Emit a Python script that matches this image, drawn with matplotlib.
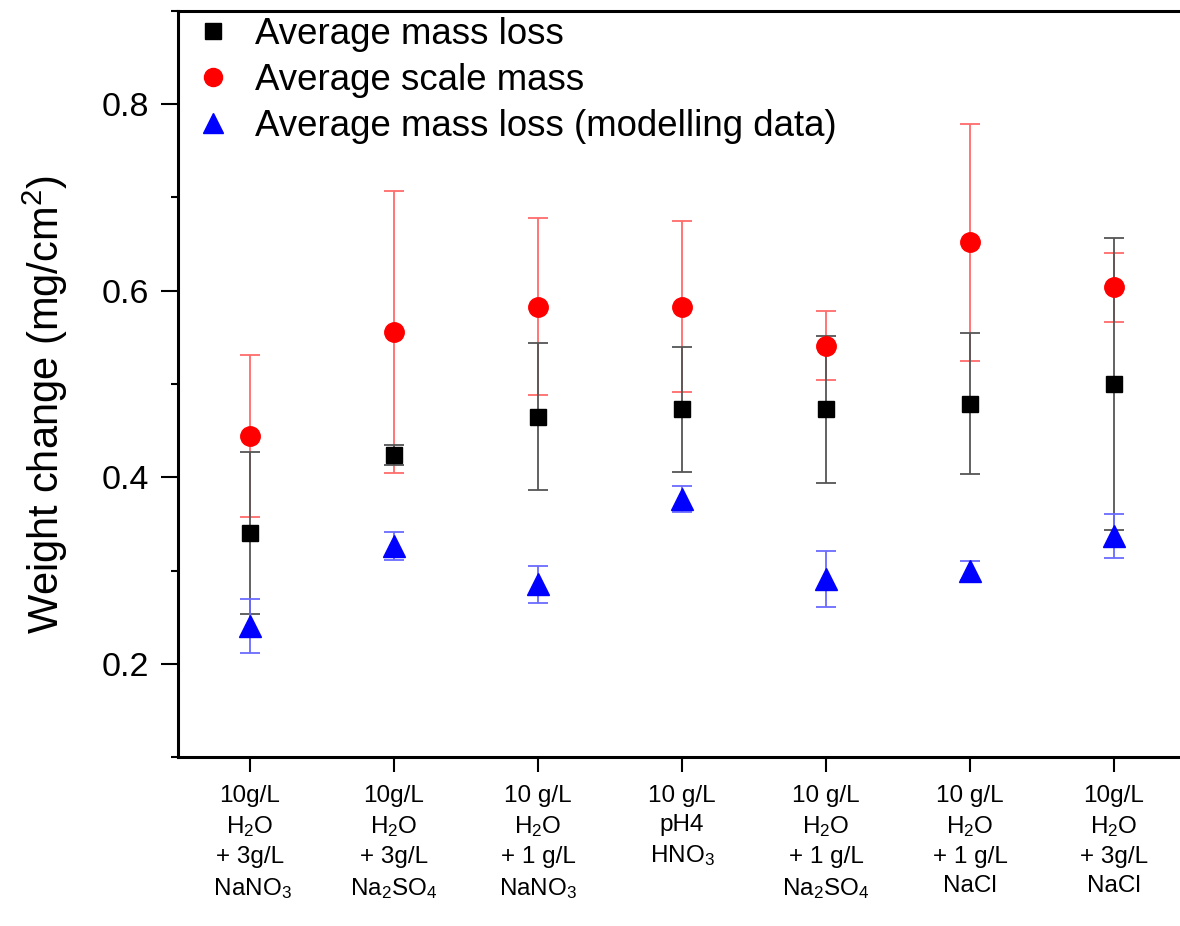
import matplotlib
matplotlib.use("Agg")
import matplotlib.pyplot as plt
from matplotlib.lines import Line2D
from matplotlib.ticker import MultipleLocator

plt.rcParams['font.family'] = ['Liberation Sans', 'DejaVu Sans']
plt.rcParams['mathtext.default'] = 'regular'

# Conditions on the x axis
conditions = [
    "10g/L\nH$_2$O\n+ 3g/L\n NaNO$_3$",
    "10g/L\nH$_2$O\n+ 3g/L\nNa$_2$SO$_4$",
    "10 g/L\nH$_2$O\n+ 1 g/L\nNaNO$_3$",
    "10 g/L\npH4\nHNO$_3$\n",
    "10 g/L\nH$_2$O\n+ 1 g/L\nNa$_2$SO$_4$",
    "10 g/L\nH$_2$O\n+ 1 g/L\nNaCl",
    "10g/L\nH$_2$O\n+ 3g/L\nNaCl",
]

# Average mass loss (black squares)
mass_loss = [0.340, 0.424, 0.465, 0.473, 0.473, 0.479, 0.500]
mass_loss_err = [0.087, 0.011, 0.079, 0.067, 0.079, 0.076, 0.157]

# Average scale mass (red circles)
scale_mass = [0.444, 0.556, 0.583, 0.583, 0.541, 0.652, 0.604]
scale_mass_err = [0.087, 0.151, 0.095, 0.092, 0.037, 0.127, 0.037]

# Average mass loss, modelling data (blue triangles)
model_loss = [0.240, 0.326, 0.285, 0.377, 0.291, 0.300, 0.337]
model_loss_err = [0.029, 0.015, 0.020, 0.014, 0.030, 0.010, 0.024]

x = list(range(len(conditions)))

fig = plt.figure(figsize=(11.8, 9.26), dpi=100)
ax = fig.add_axes([178 / 1180, 1 - 757 / 926, 1008 / 1180, 746 / 926])

ax.errorbar(x, scale_mass, yerr=scale_mass_err, fmt='none', ecolor='#ff6b6b',
            elinewidth=1.3, capsize=7, capthick=1.3, zorder=2)
ax.errorbar(x, mass_loss, yerr=mass_loss_err, fmt='none', ecolor='#555555',
            elinewidth=1.3, capsize=7, capthick=1.3, zorder=2)
ax.errorbar(x, model_loss, yerr=model_loss_err, fmt='none', ecolor='#6b6bff',
            elinewidth=1.3, capsize=7, capthick=1.3, zorder=2)

ax.plot(x, mass_loss, 's', color='black', markersize=12, linestyle='none', zorder=3)
ax.plot(x, scale_mass, 'o', color='red', markersize=14, linestyle='none', zorder=3)
ax.plot(x, model_loss, '^', color='blue', markersize=16, linestyle='none', zorder=3)

ax.set_xlim(-0.5, 6.5)
ax.set_ylim(0.1, 0.9)
ax.yaxis.set_major_locator(MultipleLocator(0.2))
ax.yaxis.set_minor_locator(MultipleLocator(0.1))
ax.set_yticks([0.2, 0.4, 0.6, 0.8])
ax.set_yticklabels(['0.2', '0.4', '0.6', '0.8'])
ax.set_xticks(x)
ax.set_xticklabels(conditions, fontsize=17.5, linespacing=1.4)

ax.tick_params(axis='y', which='major', direction='out', length=12, width=1.5,
               labelsize=24.5, pad=9)
ax.tick_params(axis='y', which='minor', direction='out', length=5, width=1.5)
ax.tick_params(axis='x', which='major', direction='out', length=11, width=1.5, pad=9)

for side in ['left', 'top', 'bottom', 'right']:
    ax.spines[side].set_linewidth(2.2)

ax.set_ylabel('Weight change (mg/cm$^2$)', fontsize=30)
ax.yaxis.set_label_coords(-0.107, 0.472)

handles = [
    Line2D([], [], marker='s', color='black', linestyle='none', markersize=12),
    Line2D([], [], marker='o', color='red', linestyle='none', markersize=13),
    Line2D([], [], marker='^', color='blue', linestyle='none', markersize=15),
]
labels = ['Average mass loss', 'Average scale mass', 'Average mass loss (modelling data)']
ax.legend(handles, labels, loc='upper left', bbox_to_anchor=(0.0056, 1.0113),
          frameon=False, fontsize=26.4, handlelength=0.8, handletextpad=0.74,
          labelspacing=0.3, borderaxespad=0.0, borderpad=0.4)

fig.savefig('out.png', dpi=100)
